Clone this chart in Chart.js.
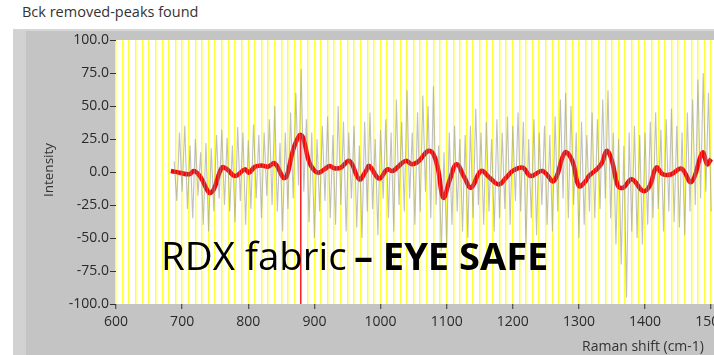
<!DOCTYPE html>
<html>
<head>
<meta charset="utf-8">
<script src="https://cdn.jsdelivr.net/npm/chart.js@4.4.1/dist/chart.umd.min.js"></script>
<style>
  html, body { margin: 0; padding: 0; width: 714px; height: 355px; overflow: hidden; background: #fff; font-family: "Open Sans", sans-serif; }
  #title { position: absolute; left: 22px; top: 2px; font-size: 14.5px; color: #333; white-space: nowrap; }
  #panel { position: absolute; left: 13px; top: 29px; width: 701px; height: 326px; box-sizing: border-box;
           background: #c4c4c4; border-left: 13px solid #d2d2d2; border-top: 2px solid #d6d6d6; }
  #wrap { position: absolute; left: 0; top: 0; }
</style>
</head>
<body>
<div id="title">Bck removed-peaks found</div>
<div id="panel"></div>
<div id="wrap"><canvas id="spectrum" width="736" height="355"></canvas></div>
<script>
// ============ DONNEES ============
const xTickLabels = [600, 700, 800, 900, 1000, 1100, 1200, 1300, 1400, 1500];
const yTickLabels = [-100, -75, -50, -25, 0, 25, 50, 75, 100];

// spectre brut (gris), un point tous les 4 cm-1 a partir de 688
const noiseStart = 688;
const noiseStep = 4;
const noiseY = [
    8, -22, 30, -15, 35, -28, 20, -35, 25, -18,
    15, -40, 22, -45, 18, -30, 28, -20, 32, -25,
    26, -30, 20, -38, 34, -22, 30, -40, 24, -28,
    36, -20, 28, -35, 30, -18, 40, -25, 50, -30,
    22, -45, 30, -28, 45, -20, 60, -10, 78, -15,
    40, -38, 30, -50, 25, -30, 35, -22, 42, -35,
    28, -40, 50, -25, 38, -45, 30, -20, 35, -42,
    20, -50, 38, -30, 45, -28, 25, -48, 32, -20,
    40, -35, 30, -45, 55, -25, 38, -30, 62, -20,
    30, -40, 45, -30, 58, -15, 50, -35, 65, -25,
    20, -60, 15, -55, 30, -40, 35, -30, 25, -45,
    28, -50, 35, -35, 48, -25, 30, -40, 38, -30,
    25, -45, 40, -35, 30, -28, 42, -40, 35, -22,
    45, -30, 38, -55, 25, -35, 40, -48, 30, -25,
    35, -40, 28, -45, 42, -30, 55, -20, 60, -35,
    50, -25, 30, -50, 38, -40, 28, -30, 45, -35,
    40, -28, 55, -20, 62, -35, 30, -55, 25, -70,
    20, -95, 30, -45, 35, -50, 28, -55, 30, -40,
    38, -35, 45, -28, 32, -45, 40, -30, 48, -38,
    35, -42, 30, -48, 45, -30, 55, -25, 70, -20,
    75, -15, 60, -30
];

// spectre lisse (rouge)
const smoothX = [683, 696, 711, 718, 728, 741, 748, 760, 768, 780, 795, 801, 810, 820, 830, 840, 853, 858, 868, 878,
    883, 890, 895, 905, 915, 923, 930, 940, 953, 968, 978, 983, 998, 1010, 1018, 1025, 1038, 1048, 1058, 1072,
    1080, 1087, 1095, 1105, 1115, 1127, 1137, 1152, 1165, 1179, 1190, 1200, 1215, 1227, 1245, 1262, 1279, 1290, 1300, 1310,
    1315, 1327, 1335, 1342, 1350, 1359, 1367, 1380, 1397, 1407, 1417, 1427, 1440, 1455, 1470, 1487, 1494, 1500];
const smoothY = [0.8, -0.5, -1.7, 0.8, -4, -15.7, -13, 3.3, 2, -3, 2, -0.5, 4, 5, 4, 6.6, -4.3, -3.5, 17, 28,
    26, 11, 4.6, -0.5, 2, 4.6, 2.8, 3.3, 8.4, -5.5, 0.8, 4.6, -5, 2, 0.8, 3.3, 8.4, 5.9, 8.4, 16,
    13.5, 2, -19.5, -5.5, 5.9, -4.3, -11.9, 0.8, -4.3, -9.4, -4.3, 0.8, 3.3, -3, 0.8, -6.8, 14.7, 8.4, -10.6, -7,
    -3, 2, 7, 16, 8.4, -10.6, -11.9, -5.5, -14.4, -10.6, 3.3, -1.7, -1.7, 2.6, -7.6, 14.7, 5.9, 10];

// pic trouve
const peakX = 879.3;
const peakTop = 28;

// ============ GRAPHIQUE ============
const noiseData = noiseY.map((y, i) => ({ x: noiseStart + i * noiseStep, y }));
const smoothData = smoothX.map((x, i) => ({ x, y: smoothY[i] }));

const plotBackground = {
    id: 'plotBackground',
    beforeDraw(chart) {
        const { ctx, chartArea: a } = chart;
        ctx.save();
        ctx.fillStyle = '#ffffff';
        ctx.fillRect(a.left, a.top, a.right - a.left, a.bottom - a.top);
        ctx.restore();
    }
};

const labels = {
    id: 'labels',
    afterDraw(chart) {
        const ctx = chart.ctx;
        ctx.save();
        ctx.fillStyle = '#333';
        ctx.textBaseline = 'middle';
        ctx.font = '14px "Open Sans"';
        ctx.textAlign = 'left';
        ctx.fillText('Raman shift (cm-1)', 582, 347);
        ctx.save();
        ctx.translate(49, 170);
        ctx.rotate(-Math.PI / 2);
        ctx.textAlign = 'center';
        ctx.font = '13.5px "Open Sans"';
        ctx.fillText('Intensity', 0, 0);
        ctx.restore();

        // gros texte
        ctx.fillStyle = '#000';
        ctx.textBaseline = 'alphabetic';
        ctx.font = '38.5px "Open Sans"';
        ctx.fillText('RDX fabric', 161, 270);
        ctx.font = 'bold 38px "Open Sans"';
        ctx.fillText('– EYE SAFE', 354, 270);
        ctx.restore();
    }
};

new Chart(document.getElementById('spectrum'), {
    type: 'line',
    data: {
        datasets: [
            { data: noiseData, borderColor: 'rgba(150,150,150,0.6)', borderWidth: 1.1, pointRadius: 0, tension: 0 },
            { data: [{ x: peakX, y: peakTop }, { x: peakX, y: -100 }], borderColor: '#ff2020', borderWidth: 1, pointRadius: 0 },
            { data: smoothData, borderColor: '#ff0000', borderWidth: 4.5, pointRadius: 0, tension: 0.4 }
        ]
    },
    options: {
        responsive: false,
        animation: false,
        layout: { padding: { top: 40, left: 0, right: 0, bottom: 0 } },
        plugins: { legend: { display: false }, tooltip: { enabled: false } },
        scales: {
            x: {
                type: 'linear', min: 600, max: 1530,
                afterFit: s => { s.height = 51; },
                border: { display: false },
                grid: {
                    color: '#ffff3a', lineWidth: 1.5,
                    tickLength: 5, tickWidth: 1,
                    tickColor: c => xTickLabels.includes(c.tick.value) ? '#333' : 'rgba(0,0,0,0)'
                },
                ticks: {
                    stepSize: 10, autoSkip: false, maxRotation: 0, maxTicksLimit: 1000, padding: 5,
                    color: '#2a2a2a', font: { family: 'Open Sans', size: 14 },
                    callback: v => xTickLabels.includes(v) ? String(v) : ''
                }
            },
            y: {
                min: -100, max: 100,
                afterFit: s => { s.width = 116; },
                border: { display: false },
                grid: { drawOnChartArea: false, tickLength: 6, tickColor: '#333' },
                ticks: {
                    stepSize: 25, padding: 1,
                    color: '#2a2a2a', font: { family: 'Open Sans', size: 14 },
                    callback: v => yTickLabels.includes(v) ? v.toFixed(1) : ''
                }
            }
        }
    },
    plugins: [plotBackground, labels]
});
</script>
</body>
</html>
